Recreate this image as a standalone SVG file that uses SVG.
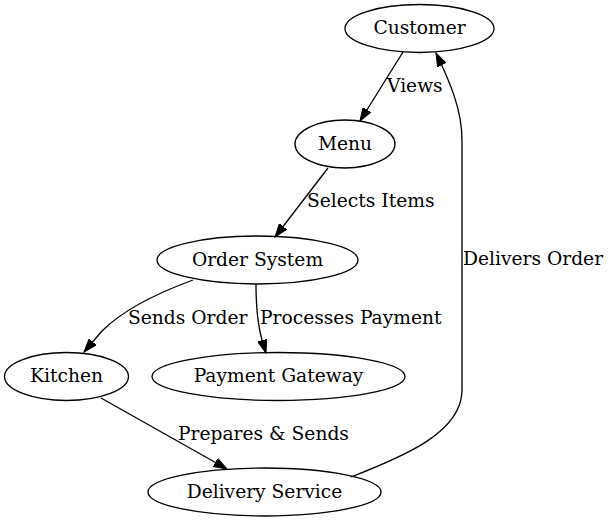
<svg xmlns="http://www.w3.org/2000/svg" width="610" height="523" viewBox="0 0 610 523">
<style>
.n ellipse{fill:none;stroke:#000;stroke-width:1.33}
text{font-family:"DejaVu Serif","Liberation Serif",serif;font-size:18.67px;fill:#000}
.n text{text-anchor:middle}
.e path{fill:none;stroke:#000;stroke-width:1.33}
</style>
<defs>
<marker id="ah" markerUnits="userSpaceOnUse" markerWidth="14" markerHeight="10" refX="13.3" refY="4.7" orient="auto" viewBox="0 0 14 9.4">
<path d="M0,0 L13.3,4.7 L0,9.4 Z" fill="#000" stroke="#000" stroke-width="1"/>
</marker>
</defs>
<rect width="610" height="523" fill="#fff"/>
<g id="connectors" class="e">
<g id="e-customer-menu"><path d="M403,52 L360,121" marker-end="url(#ah)"/><text x="387" y="91.5">Views</text></g>
<g id="e-menu-order"><path d="M328,168 L275,237" marker-end="url(#ah)"/><text x="307" y="207">Selects Items</text></g>
<g id="e-order-kitchen"><path d="M193,280 C152,295 122,311 102,331 L84,352" marker-end="url(#ah)"/><text x="128" y="324">Sends Order</text></g>
<g id="e-order-payment"><path d="M256,284 C256,305 257,322 262,340 L266,353" marker-end="url(#ah)"/><text x="260" y="324">Processes Payment</text></g>
<g id="e-kitchen-delivery"><path d="M101,398 L227,469" marker-end="url(#ah)"/><text x="178" y="440">Prepares &amp; Sends</text></g>
<g id="e-delivery-customer"><path d="M351,477 C405,456 462,432 462,390 L462,140 C462,110 450,82 436,53" marker-end="url(#ah)"/><text x="463" y="265">Delivers Order</text></g>
</g>
<g id="customer" class="n"><ellipse cx="419.5" cy="28.5" rx="74.5" ry="24"/><text x="419.5" y="34.3">Customer</text></g>
<g id="menu" class="n"><ellipse cx="345" cy="144" rx="50" ry="24"/><text x="345" y="149.8">Menu</text></g>
<g id="order-system" class="n"><ellipse cx="257.5" cy="260" rx="100.5" ry="24"/><text x="257.5" y="265.8">Order System</text></g>
<g id="kitchen" class="n"><ellipse cx="66.5" cy="376.5" rx="62" ry="24"/><text x="66.5" y="382">Kitchen</text></g>
<g id="payment-gateway" class="n"><ellipse cx="278.5" cy="376.5" rx="126.5" ry="24"/><text x="278.5" y="382">Payment Gateway</text></g>
<g id="delivery-service" class="n"><ellipse cx="264.5" cy="492" rx="116.5" ry="24"/><text x="264.5" y="497.8">Delivery Service</text></g>
</svg>
